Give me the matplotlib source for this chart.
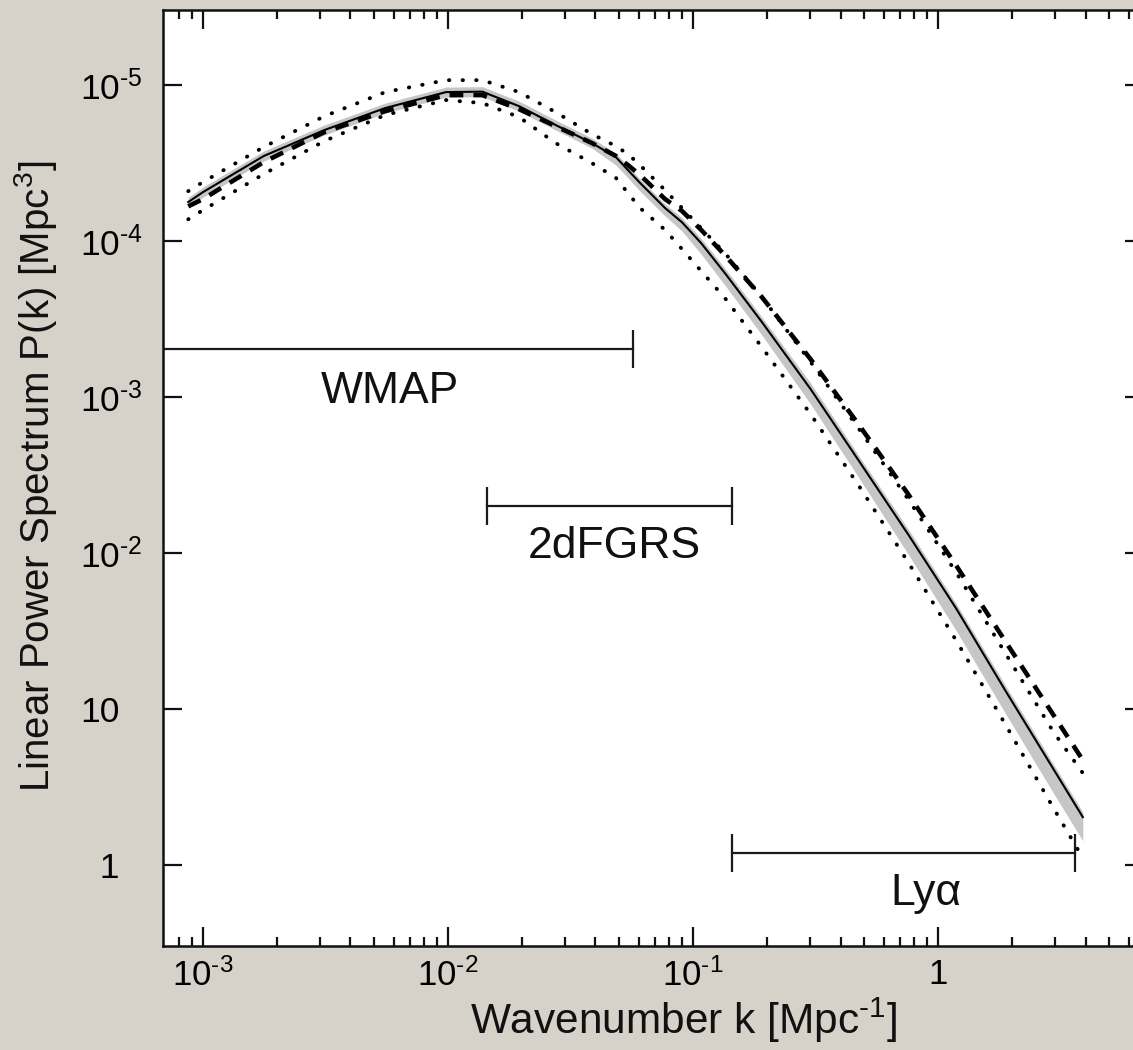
import matplotlib
matplotlib.use("Agg")
import matplotlib.pyplot as plt
from matplotlib.ticker import FixedLocator, FixedFormatter, NullLocator, NullFormatter

plt.rcParams['font.family'] = ['Liberation Sans', 'DejaVu Sans']
plt.rcParams['mathtext.fontset'] = 'custom'
plt.rcParams['mathtext.rm'] = 'Liberation Sans'
plt.rcParams['mathtext.it'] = 'Liberation Sans:italic'
plt.rcParams['mathtext.bf'] = 'Liberation Sans:bold'

# ---------------- data ----------------
# wavenumber k [1/Mpc]
k = [8.71e-4, 1.00e-3, 1.77e-3, 3.13e-3, 5.55e-3, 9.82e-3, 1.38e-2, 1.95e-2,
     2.75e-2, 3.87e-2, 4.85e-2, 5.43e-2, 6.08e-2, 7.69e-2, 9.02e-2, 0.108,
     0.136, 0.191, 0.302, 0.476, 0.755, 1.19, 1.88, 2.96, 3.90]
# best fit (solid)
P_best = [17800, 20600, 35100, 51500, 71300, 90200, 90800, 73300, 55500, 42500,
          34500, 28500, 23600, 16300, 13200, 9700, 6140, 3030, 1125, 389,
          132, 43.8, 13.2, 4.12, 2.03]
# alternative model (thick dashed)
P_alt = [16700, 18600, 32100, 50000, 68100, 86300, 86300, 70100, 54600, 42500,
         35100, 30700, 26500, 18600, 15600, 11800, 8020, 4380, 1750, 662,
         239, 82.6, 27.3, 9.16, 4.71]
# dotted envelopes
P_upper = [20900, 23900, 40100, 63200, 90200, 107600, 107600, 90200, 67100, 48500,
           40600, 36100, 30700, 21200, 16300, 12100, 8260, 4380, 1680, 624,
           222, 74.5, 22.9, 7.13, 3.89]
P_lower = [13800, 15800, 26900, 43800, 64300, 80200, 76700, 62400, 42500, 31600,
           25400, 20300, 16300, 11800, 8890, 6430, 4250, 2090, 778, 269,
           87.5, 27.3, 8.02, 2.32, 1.11]
# grey band around best fit
band_hi = [19100, 22200, 37800, 55500, 76700, 97100, 97700, 78900, 59700, 45700,
           36600, 30300, 25000, 17300, 14100, 10400, 6610, 3260, 1230, 419,
           143, 47.1, 14.3, 4.44, 2.19]
band_lo = [16500, 19100, 32600, 47900, 66200, 83800, 84300, 68100, 51500, 39400,
           30700, 25400, 20900, 14500, 11600, 8240, 5140, 2500, 902, 303,
           98.6, 31.6, 9.44, 2.89, 1.43]

# experiment k-ranges
probe_names = ['WMAP', '2dFGRS', 'Ly\u03b1']
probe_kmin = [5.0e-4, 0.0144, 0.144]
probe_kmax = [0.0569, 0.144, 3.61]
probe_level = [2030, 200, 1.19]
probe_label_k = [5.82e-3, 0.0479, 0.894]
probe_label_P = [916, 92.9, 0.555]

HY = '\u2010'
x_ticks = [1e-3, 1e-2, 1e-1, 1]
x_tick_labels = ['10$^{' + HY + '3}$', '10$^{' + HY + '2}$', '10$^{' + HY + '1}$', '1']
y_ticks = [1, 10, 100, 1e3, 1e4, 1e5]
y_tick_labels = ['  1', '10', '10$^{' + HY + '2}$', '10$^{' + HY + '3}$',
                 '10$^{' + HY + '4}$', '10$^{' + HY + '5}$']

# ---------------- figure ----------------
BG = '#d6d1c9'
W, H = 1133, 1050
fig = plt.figure(figsize=(W / 100, H / 100), dpi=100, facecolor=BG)
L, R, T, B = 163, 1144, 10, 946
ax = fig.add_axes([L / W, 1 - B / H, (R - L) / W, (B - T) / H])
ax.set_facecolor('white')
ax.set_xscale('log')
ax.set_yscale('log')
ax.set_xlim(6.87e-4, 6.93)
ax.set_ylim(0.303, 3.03e5)

ax.fill_between(k, band_lo, band_hi, color='#c6c6c6', lw=0, zorder=1)
ax.plot(k, P_best, color='black', lw=1.5, zorder=3)
ax.plot(k, P_alt, color='black', lw=3.3, ls=(0, (3.0, 2.2)), zorder=4)
for P in (P_upper, P_lower):
    ax.plot(k, P, color='black', lw=2.8, ls=(0, (0.1, 3.4)),
            dash_capstyle='round', zorder=5)

for name, k0, k1, lev, tx, ty in zip(probe_names, probe_kmin, probe_kmax,
                                     probe_level, probe_label_k, probe_label_P):
    ax.plot([k0, k1], [lev, lev], color='#1a1a1a', lw=1.6, marker='|',
            ms=28, mew=1.6, zorder=2)
    ax.text(tx, ty, name, ha='center', va='baseline', fontsize=32, color='#111111')

ax.xaxis.set_major_locator(FixedLocator(x_ticks))
ax.xaxis.set_major_formatter(FixedFormatter(x_tick_labels))
minor = [m * 10.0 ** e for e in range(-4, 1) for m in range(2, 10)]
minor = [v for v in minor if 7.5e-4 < v < 6.9]
ax.xaxis.set_minor_locator(FixedLocator(minor))
ax.xaxis.set_minor_formatter(NullFormatter())
ax.yaxis.set_major_locator(FixedLocator(y_ticks))
ax.yaxis.set_major_formatter(FixedFormatter(y_tick_labels))
ax.yaxis.set_minor_locator(NullLocator())

ax.tick_params(which='both', direction='in', top=True, right=True,
               width=1.6, color='#111111')
ax.tick_params(which='major', length=13.7)
ax.tick_params(which='minor', length=6.5)
ax.tick_params(axis='x', labelsize=25, pad=9)
ax.tick_params(axis='y', labelsize=25.5, pad=59.8)
for lbl in ax.get_yticklabels():
    lbl.set_horizontalalignment('left')
for s in ax.spines.values():
    s.set_linewidth(1.8)
    s.set_color('#111111')

fig.text(36 / W, 1 - 476 / H, 'Linear Power Spectrum P(k) [Mpc$^3$]',
         rotation=90, ha='center', va='center', fontsize=29, color='#111111')
fig.text(683.5 / W, 1 - 1034 / H, 'Wavenumber k [Mpc$^{' + HY + '1}$]',
         ha='center', va='baseline', fontsize=30.5, color='#111111')

fig.savefig('out.png', dpi=100, facecolor=BG)
